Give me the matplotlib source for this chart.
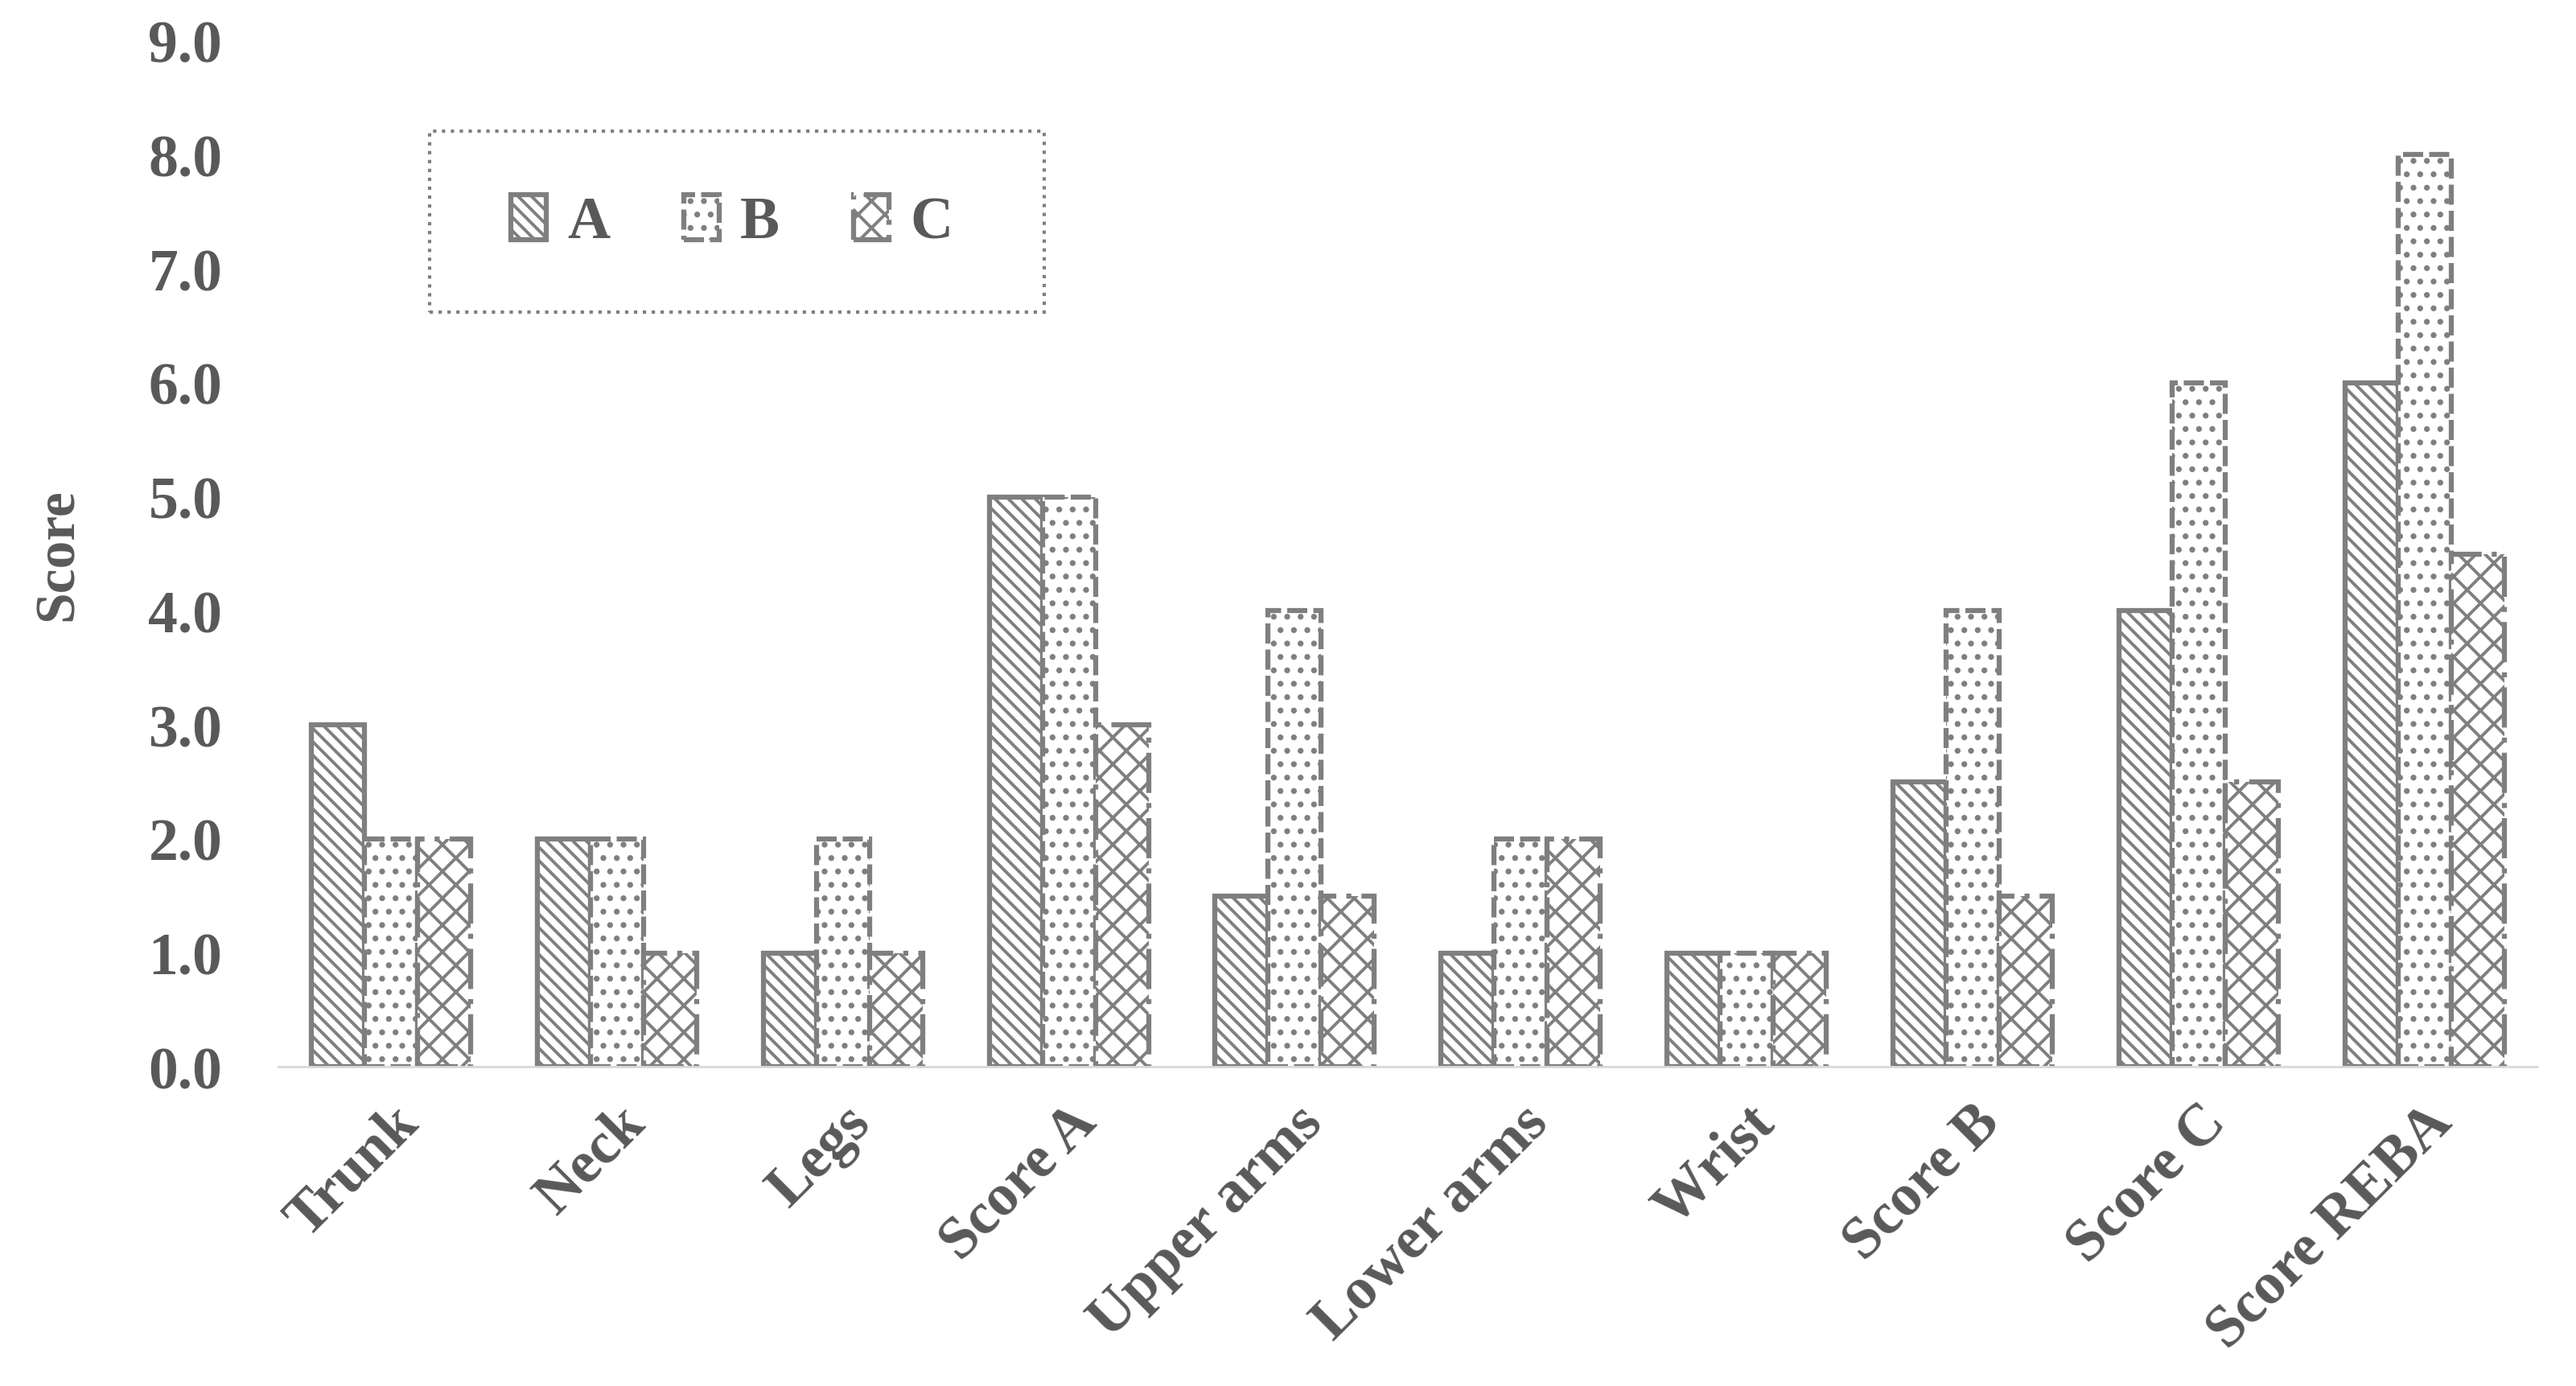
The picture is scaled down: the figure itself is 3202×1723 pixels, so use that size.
import numpy as np
import matplotlib.pyplot as plt
from matplotlib.patches import Rectangle

# data
categories = ['Trunk', 'Neck', 'Legs', 'Score A', 'Upper arms', 'Lower arms',
              'Wrist', 'Score B', 'Score C', 'Score REBA']
series_names = ['A', 'B', 'C']
vals_a = [3.0, 2.0, 1.0, 5.0, 1.5, 1.0, 1.0, 2.5, 4.0, 6.0]
vals_b = [2.0, 2.0, 2.0, 5.0, 4.0, 2.0, 1.0, 4.0, 6.0, 8.0]
vals_c = [2.0, 1.0, 1.0, 3.0, 1.5, 2.0, 1.0, 1.5, 2.5, 4.5]
yticks = [0, 1, 2, 3, 4, 5, 6, 7, 8, 9]

gray = '#7f7f7f'
txt = '#595959'

plt.rcParams['font.family'] = ['Liberation Serif', 'DejaVu Serif']
plt.rcParams['font.weight'] = 'bold'
plt.rcParams['hatch.color'] = gray
plt.rcParams['hatch.linewidth'] = 2.8

fig = plt.figure(figsize=(32.02, 17.24), dpi=100)
ax = fig.add_axes([0.108, 0.230, 0.877, 0.740])

x = np.arange(len(categories))
w = 0.235
styles = [
    dict(hatch='\\\\', linestyle='-'),
    dict(hatch='.', linestyle=(0, (4, 1.2))),
    dict(hatch='x', linestyle=(0, (8, 2, 1, 2))),
]
handles = []
for i, (vals, st) in enumerate(zip([vals_a, vals_b, vals_c], styles)):
    bars = ax.bar(x + (i - 1) * w, vals, w, color='white', edgecolor=gray,
                  linewidth=4.5, hatch=st['hatch'], linestyle=st['linestyle'],
                  label=series_names[i], zorder=2)
    handles.append(bars)

ax.set_xlim(-0.5, len(categories) - 0.5)
ax.set_ylim(0, 9)
ax.set_yticks(yticks)
ax.set_yticklabels([f'{v:.1f}' for v in yticks], fontsize=53, color=txt,
                   fontweight='bold')
ax.set_xticks(x)
ax.set_xticklabels(categories, rotation=45, ha='right', rotation_mode='anchor',
                   fontsize=53, color=txt, fontweight='bold')
ax.tick_params(axis='y', length=0, pad=50)
ax.tick_params(axis='x', length=0, pad=25)
for s in ['top', 'right', 'left']:
    ax.spines[s].set_visible(False)
ax.spines['bottom'].set_color('#d9d9d9')
ax.spines['bottom'].set_linewidth(2)
ax.set_ylabel('Score', fontsize=50, color=txt, fontweight='bold')
ax.yaxis.set_label_coords(-0.086, 0.5)

# legend box (dotted frame)
box = Rectangle((0.067, 0.736), 0.272, 0.176, transform=ax.transAxes,
                fill=False, edgecolor=gray, linestyle=':', linewidth=3,
                clip_on=False, zorder=3)
ax.add_patch(box)
leg = ax.legend(handles=handles, loc='center left', bbox_to_anchor=(0.103, 0.823),
                ncol=3, frameon=False, fontsize=53, handlelength=0.6,
                handleheight=0.8, handletextpad=0.35, columnspacing=1.25,
                borderpad=0, borderaxespad=0)
for t in leg.get_texts():
    t.set_color(txt)
    t.set_fontweight('bold')

fig.savefig('out.png', dpi=100, facecolor='white')
